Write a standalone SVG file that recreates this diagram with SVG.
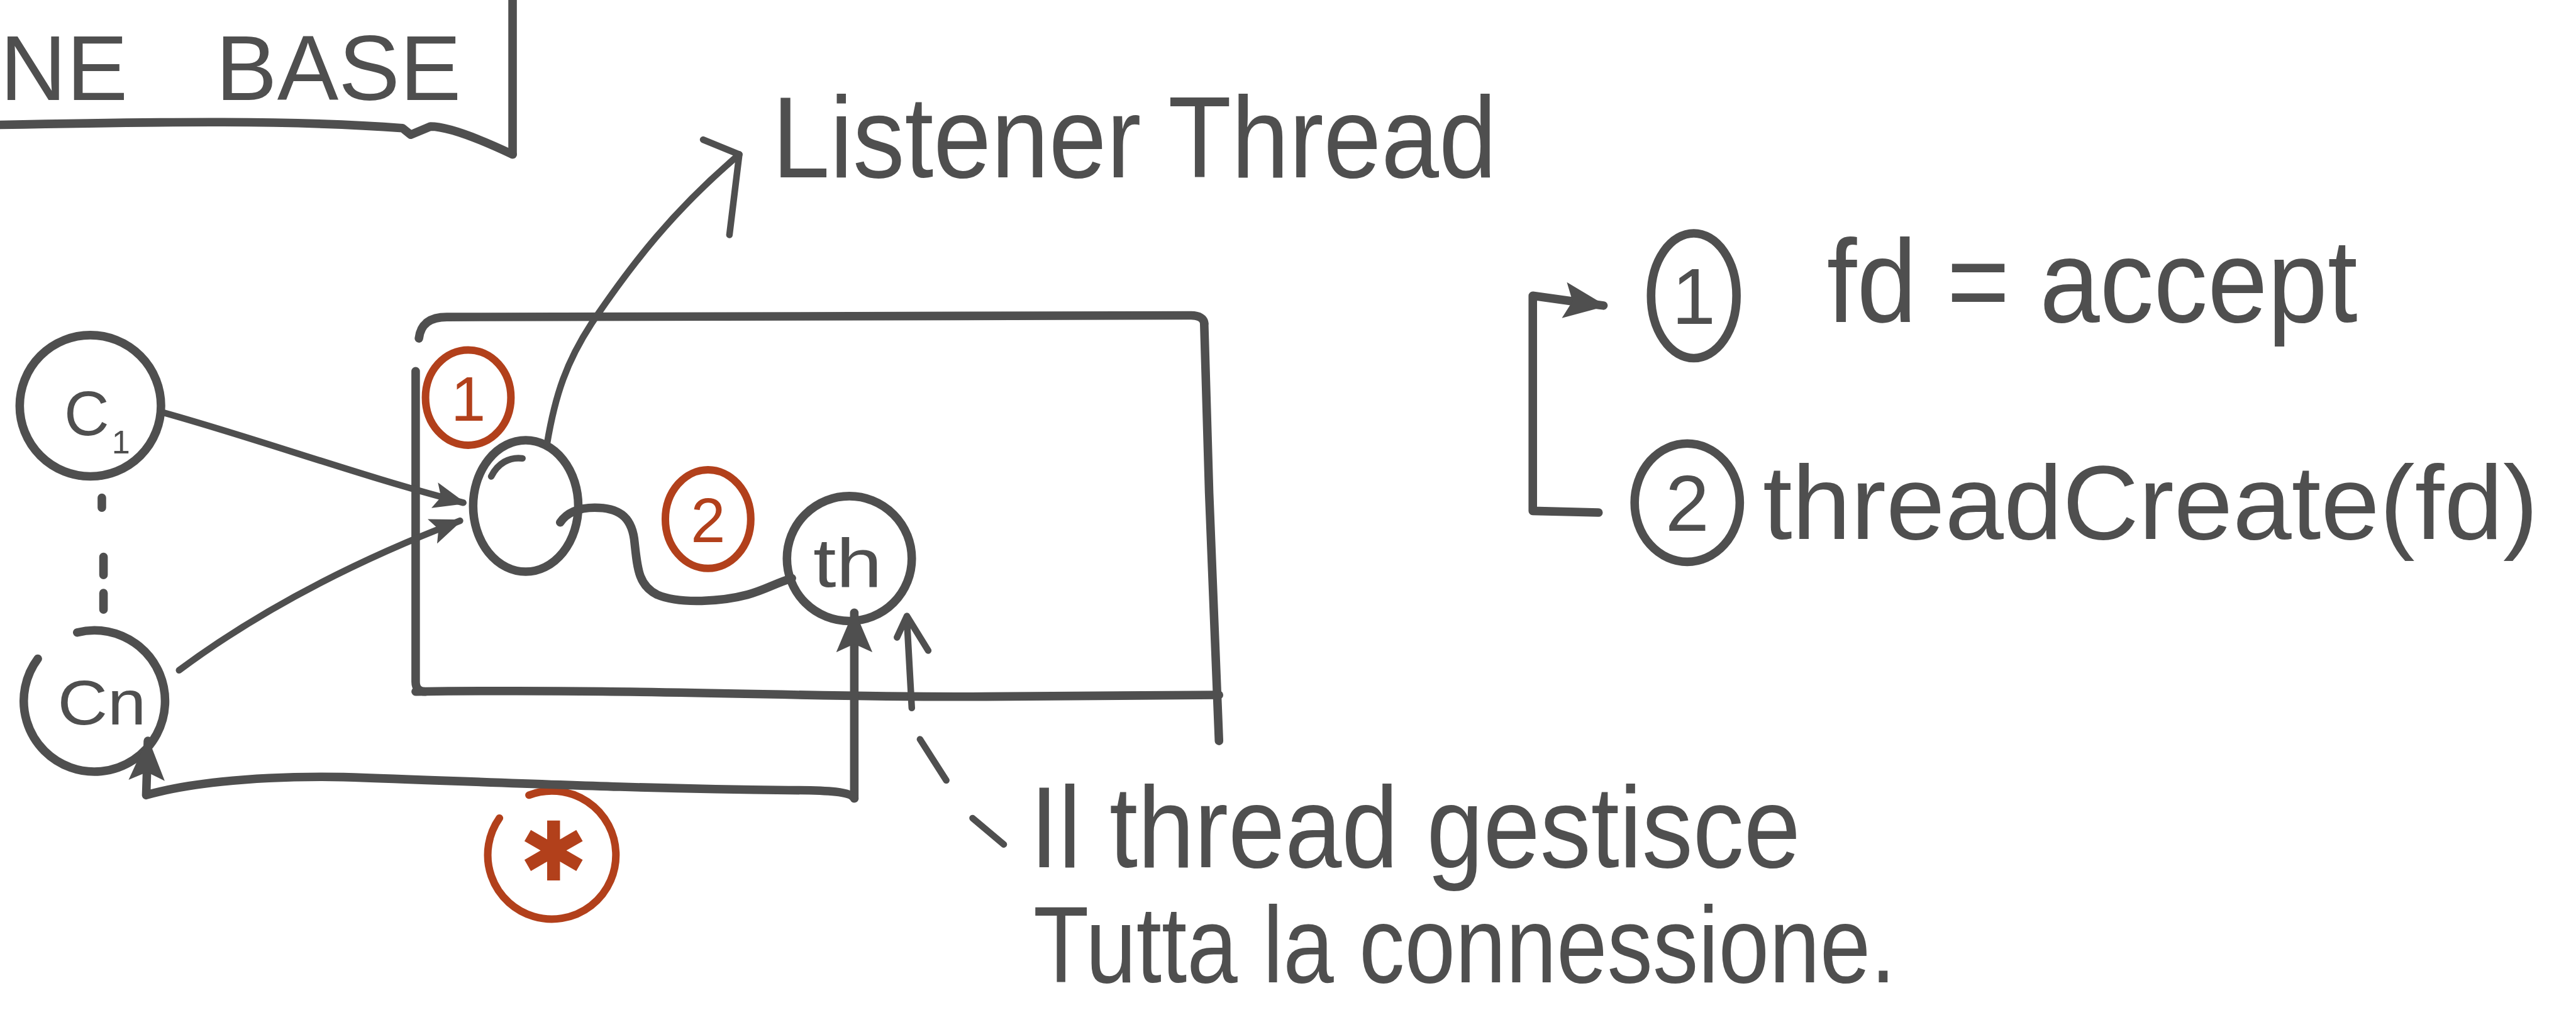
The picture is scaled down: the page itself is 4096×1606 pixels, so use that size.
<svg xmlns="http://www.w3.org/2000/svg" width="4096" height="1606" viewBox="0 0 4096 1606">
<style>
.s{fill:none;stroke:#4f4f4f;stroke-width:5.2;stroke-linecap:round;stroke-linejoin:round}
.th{fill:none;stroke:#4f4f4f;stroke-width:4;stroke-linecap:round;stroke-linejoin:round}
.r{fill:none;stroke:#b2401b;stroke-width:4.6;stroke-linecap:round;stroke-linejoin:round}
.t{fill:#4f4f4f;font-family:'Liberation Sans Narrow','Liberation Sans',Arial,sans-serif}
.rt{fill:#b2401b;font-family:'Liberation Sans',Arial,sans-serif}
</style>
<defs>
<marker id="ah" viewBox="0 0 20 16" refX="18" refY="8" markerWidth="20" markerHeight="16" orient="auto" markerUnits="userSpaceOnUse">
<path d="M0,0 L20,8 L0,16 L4,8 z" fill="#4f4f4f"/>
</marker>
<marker id="ahb" viewBox="0 0 26 22" refX="24" refY="11" markerWidth="26" markerHeight="22" orient="auto" markerUnits="userSpaceOnUse">
<path d="M0,0 L26,11 L0,22 L5,11 z" fill="#4f4f4f"/>
</marker>
</defs>
<rect width="4096" height="1606" fill="#ffffff"/>
<g transform="scale(2.61224)">

<g id="title">
<text class="t" x="0" y="61" font-size="56" word-spacing="38" style="font-family:'Liberation Sans',Arial,sans-serif">NE BASE</text>
<path class="s" d="M0,76 C100,74 180,73 245,78 L250,82 L262,77 Q276,77 312,94"/>
<path class="s" d="M312,0 L312,94"/>
</g>

<g id="server-box">
<path class="s" d="M255,206 C256,197 262,193 272,193 L725,192 C730,192 733,194 733,197"/>
<path class="s" d="M253,226 L253,415 Q253,421 259,421"/>
<path class="s" d="M253,421 C400,419 500,425 600,424 L742,423"/>
<path class="s" d="M733,197 L736,300 L742,451"/>
</g>

<g id="client-1">
<circle class="s" cx="55" cy="247" r="43"/>
<text class="t" x="39" y="265" font-size="38" style="font-family:'Liberation Sans',Arial,sans-serif">C</text>
<text class="t" x="68" y="276" font-size="20" style="font-family:'Liberation Sans',Arial,sans-serif">1</text>
</g>

<g id="client-n">
<path class="s" d="M47,385 A43,43 0 1 1 23,401"/>
<text class="t" x="35" y="441" font-size="38" textLength="54" lengthAdjust="spacingAndGlyphs" style="font-family:'Liberation Sans',Arial,sans-serif">Cn</text>
</g>

<g id="listener">
<ellipse class="s" cx="320" cy="308" rx="32" ry="40"/>
<path class="th" d="M299,290 C303,282 310,278 318,279"/>
</g>

<g id="listener-label">
<text class="t" x="470" y="108" font-size="70" textLength="441" lengthAdjust="spacingAndGlyphs">Listener Thread</text>
</g>

<g id="step-1">
<ellipse class="r" cx="285" cy="242" rx="26" ry="29"/>
<text class="rt" x="285" y="256" font-size="38" text-anchor="middle">1</text>
</g>

<g id="step-2">
<ellipse class="r" cx="431" cy="316" rx="26" ry="30"/>
<text class="rt" x="431" y="330" font-size="38" text-anchor="middle">2</text>
</g>

<g id="thread">
<circle class="s" cx="517" cy="340" r="38"/>
<text class="t" x="495" y="357" font-size="42" textLength="42" lengthAdjust="spacingAndGlyphs" style="font-family:'Liberation Sans',Arial,sans-serif">th</text>
</g>

<g id="star">
<path class="r" d="M322,484 A39,39 0 1 1 304,498"/>
<text class="rt" x="337" y="536" font-size="50" text-anchor="middle" style="font-family:'DejaVu Sans',sans-serif">✱</text>
</g>

<g id="note">
<text class="t" x="627" y="528" font-size="70" textLength="469" lengthAdjust="spacingAndGlyphs">Il thread gestisce</text>
<text class="t" x="629" y="598" font-size="66" textLength="525" lengthAdjust="spacingAndGlyphs">Tutta la connessione.</text>
</g>

<g id="legend">
<ellipse class="s" cx="1031" cy="180" rx="26" ry="38"/>
<text class="t" x="1031" y="197" font-size="48" text-anchor="middle" style="font-family:'Liberation Sans',Arial,sans-serif">1</text>
<text class="t" x="1112" y="196" font-size="72" textLength="323" lengthAdjust="spacingAndGlyphs">fd = accept</text>
<ellipse class="s" cx="1027" cy="306" rx="32" ry="36"/>
<text class="t" x="1027" y="323" font-size="48" text-anchor="middle" style="font-family:'Liberation Sans',Arial,sans-serif">2</text>
<text class="t" x="1073" y="328" font-size="64" textLength="472" lengthAdjust="spacingAndGlyphs">threadCreate(fd)</text>
</g>

<g id="connectors">
<path class="s" d="M62,303 L62,309 M63,339 L63,350 M63,361 L63,371"/>
<path class="th" d="M99,251 C160,268 220,290 282,306" marker-end="url(#ah)"/>
<path class="th" d="M109,408 C160,370 220,340 280,317" marker-end="url(#ah)"/>
<path class="th" d="M333,270 C338,240 345,220 360,197 C385,160 410,128 450,94"/>
<path class="th" d="M428,85 L450,94 L444,143"/>
<path class="s" d="M341,318 C345,312 352,309 362,309 C376,309 384,314 386,328 C388,345 388,356 400,362 C414,368 440,366 455,362 C466,359 472,355 482,352"/>
<path class="s" d="M520,486 L520,373" marker-end="url(#ahb)"/>
<path class="s" d="M520,486 C518,482 505,481 480,481 C380,480 300,476 209,473 C150,472 110,478 89,484 L90,451" marker-end="url(#ahb)"/>
<path class="th" d="M555,431 L552,377 M546,388 L552,375 L565,396 M560,450 L576,475 M592,498 L611,514"/>
<path class="s" d="M973,312 L933,311 L933,180 L976,186" marker-end="url(#ahb)"/>
</g>

</g>
</svg>
